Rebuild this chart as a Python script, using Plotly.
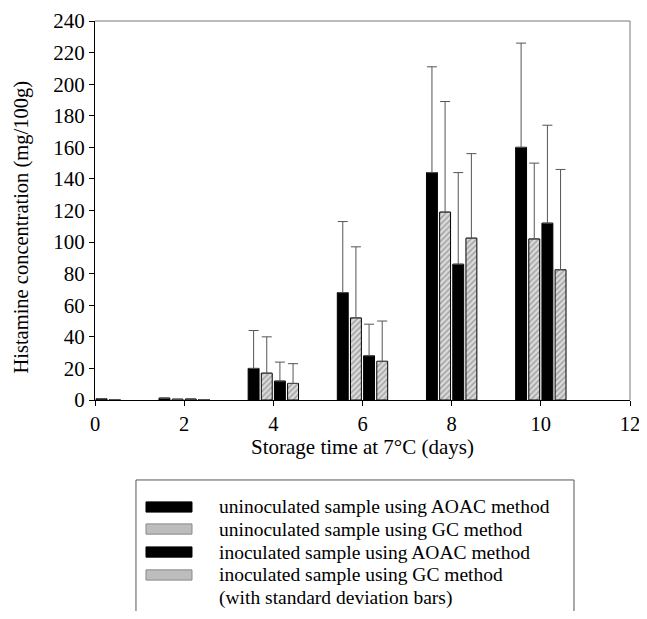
import plotly.graph_objects as go

days = [0, 2, 4, 6, 8, 10]
unino_aoac = [0.3, 1.2, 20, 68, 144, 160]
unino_aoac_sd = [0, 0, 24, 45, 67, 66]
unino_gc = [0.2, 0.5, 17, 52, 119, 102]
unino_gc_sd = [0, 0, 23, 45, 70, 48]
ino_aoac = [0.8, 0.6, 12, 28, 86, 112]
ino_aoac_sd = [0, 0, 12, 20, 58, 62]
ino_gc = [0.3, 0.3, 10.5, 24.5, 102.5, 82.5]
ino_gc_sd = [0, 0, 12.5, 25.5, 53.5, 63.5]

names = [
    "uninoculated sample using AOAC method",
    "uninoculated sample using GC method",
    "inoculated sample using AOAC method",
    "inoculated sample using GC method",
]
legend_note = "(with standard deviation bars)"
series = [(unino_aoac, unino_aoac_sd, False), (unino_gc, unino_gc_sd, True),
          (ino_aoac, ino_aoac_sd, False), (ino_gc, ino_gc_sd, True)]

FONT = "Liberation Serif"
HATCH_BG = "#dadada"
HATCH_FG = "#606060"

fig = go.Figure()
for name, (vals, sd, hatched) in zip(names, series):
    if hatched:
        marker = dict(color=HATCH_BG, line=dict(color="black", width=1),
                      pattern=dict(shape="/", fgcolor=HATCH_FG, bgcolor=HATCH_BG, size=4, solidity=0.35))
    else:
        marker = dict(color="black", line=dict(color="black", width=1))
    fig.add_trace(go.Bar(
        x=days, y=vals, name=name, marker=marker, showlegend=False,
        error_y=dict(type="data", array=sd, arrayminus=[0] * len(sd), symmetric=False,
                     color="#555555", thickness=1, width=5),
    ))

shapes = [
    dict(type="line", xref="paper", yref="paper", x0=0, x1=1, y0=1, y1=1,
         line=dict(color="#777777", width=1)),
    dict(type="line", xref="paper", yref="paper", x0=1, x1=1, y0=0, y1=1,
         line=dict(color="#777777", width=1)),
    dict(type="rect", xref="paper", yref="paper", x0=0.0766, x1=0.8953, y0=-0.75, y1=-0.211,
         line=dict(color="#555555", width=1), fillcolor="rgba(0,0,0,0)"),
]
annotations = []
row_y = [-0.2823, -0.3404, -0.4011, -0.4617, -0.5224]
half_h = 0.0135
for (name, (_, _, hatched)), ry in zip(zip(names, series), row_y):
    shapes.append(dict(
        type="rect", xref="paper", yref="paper", x0=0.0953, x1=0.1813,
        y0=ry - half_h, y1=ry + half_h,
        fillcolor="#bdbdbd" if hatched else "black",
        line=dict(color="#888888" if hatched else "black", width=1),
    ))
    annotations.append(dict(text=name, xref="paper", yref="paper", x=0.2280, y=ry,
                            xanchor="left", yanchor="middle", showarrow=False,
                            font=dict(family=FONT, size=19.5, color="black")))
annotations.append(dict(text=legend_note, xref="paper", yref="paper", x=0.2280, y=row_y[4],
                        xanchor="left", yanchor="middle", showarrow=False,
                        font=dict(family=FONT, size=19.5, color="black")))
annotations.append(dict(text="Histamine concentration (mg/100g)", xref="paper", yref="paper",
                        x=-0.1364, y=0.455, xanchor="center", yanchor="middle",
                        textangle=-90, showarrow=False,
                        font=dict(family=FONT, size=20.5, color="black")))

fig.update_layout(
    width=632, height=603,
    margin=dict(l=87, r=10, t=13, b=211),
    paper_bgcolor="white", plot_bgcolor="white",
    barmode="group", bargap=0.41, bargroupgap=0.17,
    font=dict(family=FONT, size=20, color="black"),
    showlegend=False,
    xaxis=dict(
        range=[0, 12], tickvals=[0, 2, 4, 6, 8, 10, 12], ticks="outside", ticklen=5,
        tickcolor="black", showline=True, linecolor="black", linewidth=1,
        showgrid=False, zeroline=False, tickfont=dict(size=20.5), automargin=False,
        ticklabeloverflow="allow",
        title=dict(text="Storage time at 7°C (days)", font=dict(size=21), standoff=5),
    ),
    yaxis=dict(
        range=[0, 240], tickvals=list(range(0, 241, 20)), ticks="outside", ticklen=5,
        tickcolor="black", showline=True, linecolor="black", linewidth=1,
        showgrid=False, zeroline=False, tickfont=dict(size=21), automargin=False,
    ),
    shapes=shapes,
    annotations=annotations,
)

fig.write_html("out.html")
